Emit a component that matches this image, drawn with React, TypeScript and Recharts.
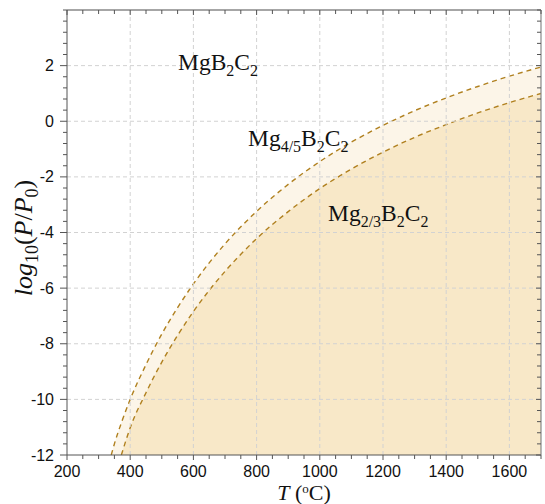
import React from "react";
import { ComposedChart, Area, XAxis, YAxis, ReferenceLine } from "recharts";

// Boundary Mg4/5B2C2 (upper dashed curve): temperature (°C) and log10(P/P0)
const upperT = [340, 350, 375, 400, 450, 500, 550, 600, 650, 700, 800, 900, 1000, 1100, 1200, 1300, 1400, 1500, 1600, 1700];
const upperLogP = [-12.0, -11.6, -10.75, -10.0, -8.75, -7.65, -6.7, -5.85, -5.09, -4.41, -3.24, -2.27, -1.45, -0.75, -0.15, 0.38, 0.84, 1.25, 1.62, 1.95];

// Boundary Mg2/3B2C2 (lower dashed curve)
const lowerT = [372, 400, 450, 500, 550, 600, 650, 700, 800, 900, 1000, 1100, 1200, 1300, 1400, 1500, 1600, 1700];
const lowerLogP = [-12.0, -11.02, -9.76, -8.66, -7.7, -6.84, -6.08, -5.4, -4.22, -3.25, -2.42, -1.72, -1.11, -0.58, -0.12, 0.3, 0.67, 1.0];

// Axis ticks
const xMajor = [200, 400, 600, 800, 1000, 1200, 1400, 1600];
const xAllTicks = Array.from({ length: 31 }, (_, i) => 200 + i * 50);
const yMajor = [-12, -10, -8, -6, -4, -2, 0, 2];
const yAllTicks = Array.from({ length: 41 }, (_, i) => Math.round((-12 + i * 0.4) * 10) / 10);
const xGrid = [400, 600, 800, 1000, 1200, 1400, 1600];
const yGrid = [-10, -8, -6, -4, -2, 0, 2];

const upperData = upperT.map((T, i) => ({ T, v: upperLogP[i] }));
const lowerData = lowerT.map((T, i) => ({ T, v: lowerLogP[i] }));

const AXIS = "#555";
const CURVE = "#b0801f";
const SANS = "'Liberation Sans', Arial, sans-serif";
const SERIF = "'Liberation Serif', 'Times New Roman', serif";

const isYMajor = (v: number) => yMajor.some((m) => Math.abs(m - v) < 1e-6);

const BottomTick = (props: any) => {
  const { x, y, payload } = props;
  const v = payload.value;
  const major = xMajor.includes(v);
  return (
    <g>
      <line x1={x} x2={x} y1={y} y2={y + (major ? 5 : 4)} stroke={AXIS} strokeWidth={1} />
      {major && (
        <text x={x} y={y + 22} textAnchor="middle" fontSize={16} fontFamily={SANS} fill="#111">
          {v}
        </text>
      )}
    </g>
  );
};

const TopTick = (props: any) => {
  const { x, y, payload } = props;
  const major = xMajor.includes(payload.value);
  return <line x1={x} x2={x} y1={y} y2={y + (major ? 5 : 4)} stroke={AXIS} strokeWidth={1} />;
};

const LeftTick = (props: any) => {
  const { x, y, payload } = props;
  const v = payload.value;
  const major = isYMajor(v);
  return (
    <g>
      <line x1={x - (major ? 7 : 4)} x2={x} y1={y} y2={y} stroke={AXIS} strokeWidth={1} />
      {major && (
        <text x={x - 13} y={y + 5.5} textAnchor="end" fontSize={16} fontFamily={SANS} fill="#111">
          {Math.round(v)}
        </text>
      )}
    </g>
  );
};

const RightTick = (props: any) => {
  const { x, y, payload } = props;
  const major = isYMajor(payload.value);
  return <line x1={x - (major ? 5 : 4)} x2={x} y1={y} y2={y} stroke={AXIS} strokeWidth={1} />;
};

const Formula = ({ x, y, subs, parts }: { x: number; y: number; parts: string[]; subs: string[] }) => (
  <text x={x} y={y} fontSize={23.5} fontFamily={SERIF} fill="#111">
    {parts.map((p, i) => (
      <React.Fragment key={i}>
        <tspan dy={i === 0 ? 0 : -6}>{p}</tspan>
        <tspan fontSize={16} dy={6}>
          {subs[i]}
        </tspan>
      </React.Fragment>
    ))}
  </text>
);

export default function App() {
  return (
    <div style={{ position: "absolute", left: 0, top: 0, width: 545, height: 504 }}>
      <ComposedChart width={545} height={504} margin={{ top: 0, right: 0, bottom: 0, left: 0 }}>
        <XAxis
          xAxisId={0}
          dataKey="T"
          type="number"
          domain={[200, 1700]}
          allowDataOverflow
          ticks={xAllTicks}
          interval={0}
          tickSize={0}
          tickMargin={0}
          tickLine={false}
          tick={<BottomTick />}
          axisLine={{ stroke: AXIS, strokeWidth: 1 }}
          height={49}
        />
        <XAxis
          xAxisId="top"
          orientation="top"
          dataKey="T"
          type="number"
          domain={[200, 1700]}
          allowDataOverflow
          ticks={xAllTicks}
          interval={0}
          tickSize={0}
          tickMargin={0}
          tickLine={false}
          tick={<TopTick />}
          axisLine={{ stroke: "#888", strokeWidth: 1.6 }}
          height={10}
        />
        <YAxis
          yAxisId={0}
          type="number"
          domain={[-12, 4]}
          allowDataOverflow
          ticks={yAllTicks}
          interval={0}
          tickSize={0}
          tickMargin={0}
          tickLine={false}
          tick={<LeftTick />}
          axisLine={{ stroke: AXIS, strokeWidth: 1 }}
          width={67}
        />
        <YAxis
          yAxisId="right"
          orientation="right"
          type="number"
          domain={[-12, 4]}
          allowDataOverflow
          ticks={yAllTicks}
          interval={0}
          tickSize={0}
          tickMargin={0}
          tickLine={false}
          tick={<RightTick />}
          axisLine={{ stroke: "#888", strokeWidth: 1.2 }}
          width={4}
        />
        <Area
          data={upperData}
          dataKey="v"
          type="monotone"
          baseValue={-12}
          fill="#fcf5e8"
          fillOpacity={1}
          stroke={CURVE}
          strokeWidth={1.4}
          strokeDasharray="5 4"
          isAnimationActive={false}
          dot={false}
          activeDot={false}
        />
        <Area
          data={lowerData}
          dataKey="v"
          type="monotone"
          baseValue={-12}
          fill="#f8e8c8"
          fillOpacity={1}
          stroke={CURVE}
          strokeWidth={1.4}
          strokeDasharray="5 4"
          isAnimationActive={false}
          dot={false}
          activeDot={false}
        />
        {xGrid.map((v) => (
          <ReferenceLine key={"x" + v} x={v} stroke="#d2d2d2" strokeDasharray="4 3" strokeWidth={1} />
        ))}
        {yGrid.map((v) => (
          <ReferenceLine key={"y" + v} y={v} stroke="#d2d2d2" strokeDasharray="4 3" strokeWidth={1} />
        ))}
      </ComposedChart>
      <svg
        width={545}
        height={504}
        style={{ position: "absolute", left: 0, top: 0, pointerEvents: "none" }}
      >
        <Formula x={178} y={70} parts={["MgB", "C"]} subs={["2", "2"]} />
        <Formula x={248} y={146} parts={["Mg", "B", "C"]} subs={["4/5", "2", "2"]} />
        <Formula x={328} y={221} parts={["Mg", "B", "C"]} subs={["2/3", "2", "2"]} />
        <text
          x={0}
          y={0}
          transform="translate(32,238) rotate(-90)"
          textAnchor="middle"
          fontSize={26}
          fontFamily={SERIF}
          fill="#111"
        >
          <tspan fontStyle="italic">log</tspan>
          <tspan fontSize={18} dy={6}>10</tspan>
          <tspan dy={-6}>(</tspan>
          <tspan fontStyle="italic">P</tspan>
          <tspan>/</tspan>
          <tspan fontStyle="italic">P</tspan>
          <tspan fontSize={18} dy={6}>0</tspan>
          <tspan dy={-6}>)</tspan>
        </text>
        <text x={304} y={500} textAnchor="middle" fontSize={22} fontFamily={SERIF} fill="#111">
          <tspan fontStyle="italic">T</tspan>
          <tspan> (</tspan>
          <tspan fontSize={13} dy={-7}>o</tspan>
          <tspan dy={7}>C)</tspan>
        </text>
      </svg>
    </div>
  );
}
